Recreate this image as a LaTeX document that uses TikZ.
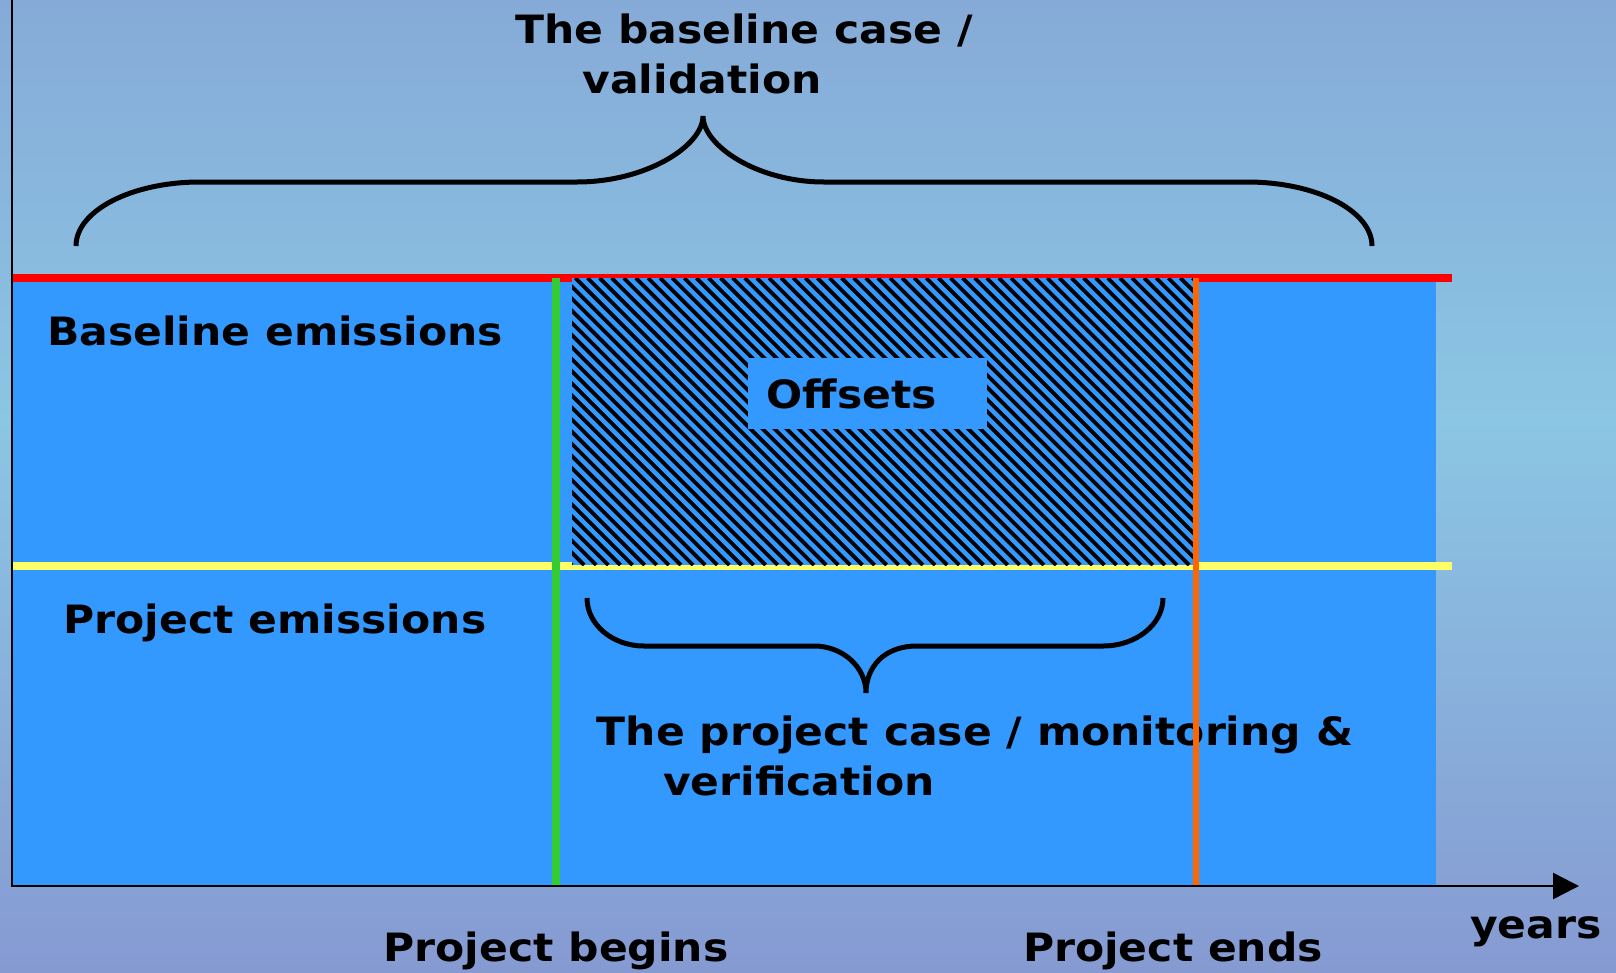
\documentclass[tikz,border=0pt]{standalone}
\usepackage{fontspec}
\setmainfont{DejaVu Sans}[FakeStretch=1.09]
\usetikzlibrary{arrows.meta}
\definecolor{bgtop}{RGB}{134,170,215}
\definecolor{bgmid}{RGB}{139,198,228}
\definecolor{bgbot}{RGB}{134,154,210}
\definecolor{areablue}{RGB}{51,153,255}
\definecolor{basered}{RGB}{255,0,0}
\definecolor{projyellow}{RGB}{255,255,102}
\definecolor{begingreen}{RGB}{51,204,51}
\definecolor{endorange}{RGB}{255,102,0}
\begin{document}
\begin{tikzpicture}[x=1pt,y=-1pt,
  lbl/.style={font=\fontsize{39}{46}\selectfont\bfseries, inner sep=0pt, anchor=base, text=black},
  brace/.style={line width=5pt, draw=black},
  hatchline/.style={line width=3.8pt, draw=black}]
\useasboundingbox (0,0) rectangle (1616,972);
% background
\shade[top color=bgtop, bottom color=bgmid] (0,0) rectangle (1616,421);
\shade[top color=bgmid, bottom color=bgbot] (0,420) rectangle (1616,972);
% emission area
\fill[areablue] (12,278) rectangle (1436,886);
\fill[basered] (12,274) rectangle (1452,282);
\fill[projyellow] (12,562) rectangle (1452,570);
% offsets hatched
\fill[areablue] (572,278) rectangle (1196,565);
\begin{scope}
  \clip (572,278) rectangle (1196,565);
  \foreach \i in {0,...,78} \draw[hatchline] ({285+\i*12.1},278) -- ++(287,287);
\end{scope}
% project begins line
\fill[begingreen] (552,278) rectangle (560,886);
% offsets label box
\node[fill=areablue, inner sep=0pt, minimum width=239pt, minimum height=71pt] (offbox) at (867.5,393.5) {};
\node[lbl] (offsets) at (852,408) {Offsets};
% labels
\node[lbl] (bc1) at (744,43) {The baseline case /};
\node[lbl] (bc2) at (702,93) {validation};
\node[lbl] (bemis) at (275,345) {Baseline emissions};
\node[lbl] (pemis) at (275,633) {Project emissions};
\node[lbl] (pc1) at (975,745) {The project case / monitoring \&};
\node[lbl] (pc2) at (799,795) {verification};
\node[lbl] (pbeg) at (556,961) {Project begins};
\node[lbl] (pend) at (1173,961) {Project ends};
\node[lbl] (years) at (1536,938) {years};
% braces
\draw[brace] (76,246) .. controls (76,210.7) and (131.5,182) .. (200,182)
  -- (577,182) .. controls (646.6,182) and (703,145.6) .. (703,116)
  .. controls (703,145.6) and (757.2,182) .. (824,182)
  -- (1247,182) .. controls (1316,182) and (1372,210.7) .. (1372,246);
\draw[brace] (587,598) .. controls (587,624.5) and (612.5,646) .. (644,646)
  -- (814,646) .. controls (842.7,646) and (866,667) .. (866,693)
  .. controls (866,667) and (884,646) .. (917,646)
  -- (1103,646) .. controls (1136,646) and (1163,624.5) .. (1163,598);
% project ends line
\fill[endorange] (1193,278) rectangle (1199,886);
% axes
\draw[line width=2.5pt, -{Triangle[length=26pt,width=26pt]}] (12,0) -- (12,886) -- (1579,886);
\end{tikzpicture}
\end{document}
